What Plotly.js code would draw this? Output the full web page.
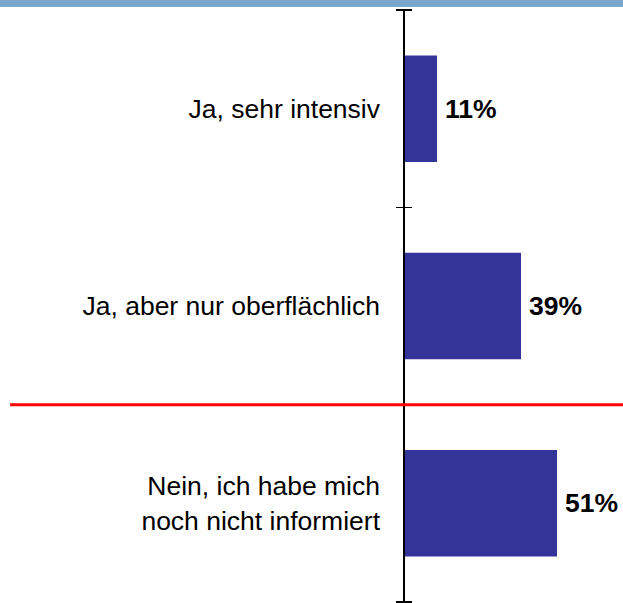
<!DOCTYPE html>
<html>
<head>
<meta charset="utf-8">
<script src="https://cdn.plot.ly/plotly-3.0.1.min.js"></script>
<style>
  html, body { margin: 0; padding: 0; background: #ffffff; }
  #chart { width: 623px; height: 603px; }
</style>
</head>
<body>
<div id="chart"></div>
<script>
var categories = ['Ja, sehr intensiv', 'Ja, aber nur oberflächlich', 'Nein, ich habe mich<br>noch nicht informiert'];
var shares = [11, 39, 51];
var labels = ['11%', '39%', '51%'];

var FONT = 'Arial, "Liberation Sans", sans-serif';

// row index of each category (0 at the top)
var rows = categories.map(function (c, i) { return i; });
// category boundaries, where the axis ticks sit
var bounds = [-0.5].concat(rows.map(function (r) { return r + 0.5; }));

var trace1 = {
    x: shares,
    y: rows,
    type: 'bar',
    orientation: 'h',
    marker: {color: '#333399'},
    hoverinfo: 'none'
};

var notes = [];
for (var i = 0; i < categories.length; i++)
{
    notes.push({
        x: shares[i],
        y: rows[i],
        text: '<b>' + labels[i] + '</b>',
        showarrow: false,
        xanchor: 'left',
        xshift: 6,
        font: {family: FONT, size: 26.5, color: '#000000'}
    });
}

var layout = {
    width: 623,
    height: 603,
    margin: {l: 396, r: 0, t: 9, b: 0, pad: 0},
    paper_bgcolor: '#ffffff',
    plot_bgcolor: '#ffffff',
    showlegend: false,
    bargap: 0.46,
    font: {family: FONT, size: 26.5, color: '#000000'},
    xaxis: {
        // the vertical axis line is the zero line of x
        range: [-2.667, 73],
        showticklabels: false,
        ticks: '',
        showgrid: false,
        showline: false,
        zeroline: true,
        zerolinecolor: '#000000',
        zerolinewidth: 1.5,
        zerolinelayer: 'above traces',
        fixedrange: true
    },
    yaxis: {
        type: 'linear',
        range: [2.505, -0.505],
        showline: false,
        tickmode: 'array',
        tickvals: rows,
        ticktext: categories,
        ticks: '',
        ticklabelstandoff: 15,
        minor: {
            tickmode: 'array',
            tickvals: bounds,
            ticks: 'inside',
            ticklen: 16,
            tickwidth: 1.5,
            tickcolor: '#000000',
            showgrid: false
        },
        showgrid: false,
        zeroline: false,
        tickfont: {family: FONT, size: 26.5, color: '#000000'},
        fixedrange: true
    },
    shapes: [
        // header strip
        {type: 'rect', xref: 'paper', yref: 'paper', x0: -1.8, x1: 1.01, y0: 1.0034, y1: 1.02,
         fillcolor: '#7BA7CA', line: {width: 0}},
        // red divider
        {type: 'line', xref: 'paper', yref: 'y', x0: -1.700, x1: 1.01, y0: bounds[2], y1: bounds[2],
         line: {color: '#FF0000', width: 3}}
    ],
    annotations: notes
};

Plotly.newPlot('chart', [trace1], layout, {displayModeBar: false, staticPlot: true});
</script>
</body>
</html>
